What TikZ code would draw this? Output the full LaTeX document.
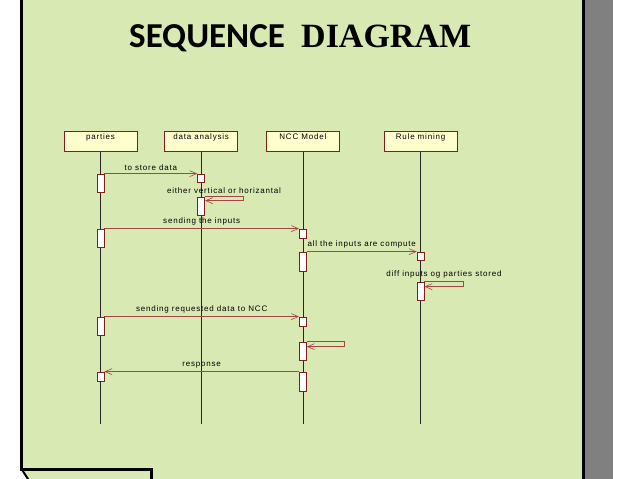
\documentclass[tikz,border=0pt]{standalone}
\usepackage{fontspec}
\setmainfont{Liberation Sans}
\newfontfamily\msgfont[LetterSpace=10]{Liberation Sans}
\newfontfamily\capfont{Carlito}
\newfontfamily\serfont{Liberation Serif}
\usetikzlibrary{arrows.meta,positioning}
\definecolor{sheet}{RGB}{216,233,179}
\definecolor{sidegray}{RGB}{128,128,128}
\definecolor{umlred}{RGB}{128,30,30}
\definecolor{msgred}{RGB}{165,70,70}
\definecolor{objfill}{RGB}{255,255,206}
\begin{document}
\begin{tikzpicture}[x=1pt, y=-1pt,
  obj/.style={draw=umlred, fill=objfill, line width=0.7pt, minimum width=73pt,
              inner xsep=0pt, inner ysep=2pt, text height=6pt, text depth=10pt,
              font=\msgfont\fontsize{8}{9}\selectfont},
  act/.style={draw=umlred, fill=white, line width=0.7pt, minimum width=7pt,
              minimum height=#1, inner sep=0pt},
  act/.default=18pt,
  life/.style={line width=0.6pt, black!85},
  msg/.style={draw=msgred, line width=0.6pt, -{Straight Barb[length=7pt,width=6pt]}},
  lbl/.style={font=\msgfont\fontsize{8}{9}\selectfont, inner sep=1pt, above=2pt}]
\useasboundingbox (0,0) rectangle (638,479);
\fill[sheet] (22,0) -- (584,0) -- (584,479) -- (29,479) -- (21.5,469) -- cycle;
\fill[sidegray] (585,0) rectangle (613,479);
\draw[line width=3pt] (21.5,0) -- (21.5,469) -- (151.5,469) -- (151.5,479);
\draw[line width=2pt] (21.5,469) -- (28,479);
\draw[line width=3pt] (583.5,0) -- (583.5,479);
\node[anchor=base west, inner sep=0pt, font=\capfont\bfseries\fontsize{35}{40}\selectfont] (tseq) at (129,47) {SEQUENCE};
\node[anchor=base west, inner sep=0pt, font=\serfont\bfseries\fontsize{34}{40}\selectfont] (tdia) at (301,47) {DIAGRAM};
\node[obj] (parties) at (100.5,141.5) {parties};
\node[obj, right=27pt of parties] (analysis) {data analysis};
\node[obj, right=28pt of analysis] (ncc) {NCC Model};
\node[obj, right=44pt of ncc] (rule) {Rule mining};
\foreach \o in {parties,analysis,ncc,rule}
  \draw[life] (\o.south) -- ++(0,272);
\node[act] (p1) at (parties |- 0,183) {};
\node[act=8pt] (d1) at (analysis |- 0,178) {};
\node[act] (d2) at (analysis |- 0,206) {};
\node[act] (p2) at (parties |- 0,238) {};
\node[act=9pt] (n1) at (ncc |- 0,233.5) {};
\node[act=19pt] (n2) at (ncc |- 0,261.5) {};
\node[act=8pt] (r1) at (rule |- 0,256) {};
\node[act] (r2) at (rule |- 0,291) {};
\node[act] (p3) at (parties |- 0,326) {};
\node[act=9pt] (n3) at (ncc |- 0,321.5) {};
\node[act] (n4) at (ncc |- 0,351) {};
\node[act=9pt] (p4) at (parties |- 0,376.5) {};
\node[act=19pt] (n5) at (ncc |- 0,381.5) {};
\draw[msg] (p1.north east) -- node[lbl]{to store data} (d1.north west);
\draw[msg] (d2.north east) -- node[lbl]{either vertical or horizantal} ++(38,0)
  -- ++(0,4) -- ([yshift=-4pt]d2.north east);
\draw[msg] (p2.north east) -- node[lbl]{sending the inputs} (n1.north west);
\draw[msg] (n2.north east) -- node[lbl]{all the inputs are compute} (r1.north west);
\draw[msg] (r2.north east) -- node[lbl]{diff inputs og parties stored} ++(39,0)
  -- ++(0,5) -- ([yshift=-5pt]r2.north east);
\draw[msg] (p3.north east) -- node[lbl]{sending requested data to NCC} (n3.north west);
\draw[msg] (n4.north east) -- ++(38,0) -- ++(0,5) -- ([yshift=-5pt]n4.north east);
\draw[msg] (n5.north west) -- node[lbl]{response} (p4.north east);
\end{tikzpicture}
\end{document}
